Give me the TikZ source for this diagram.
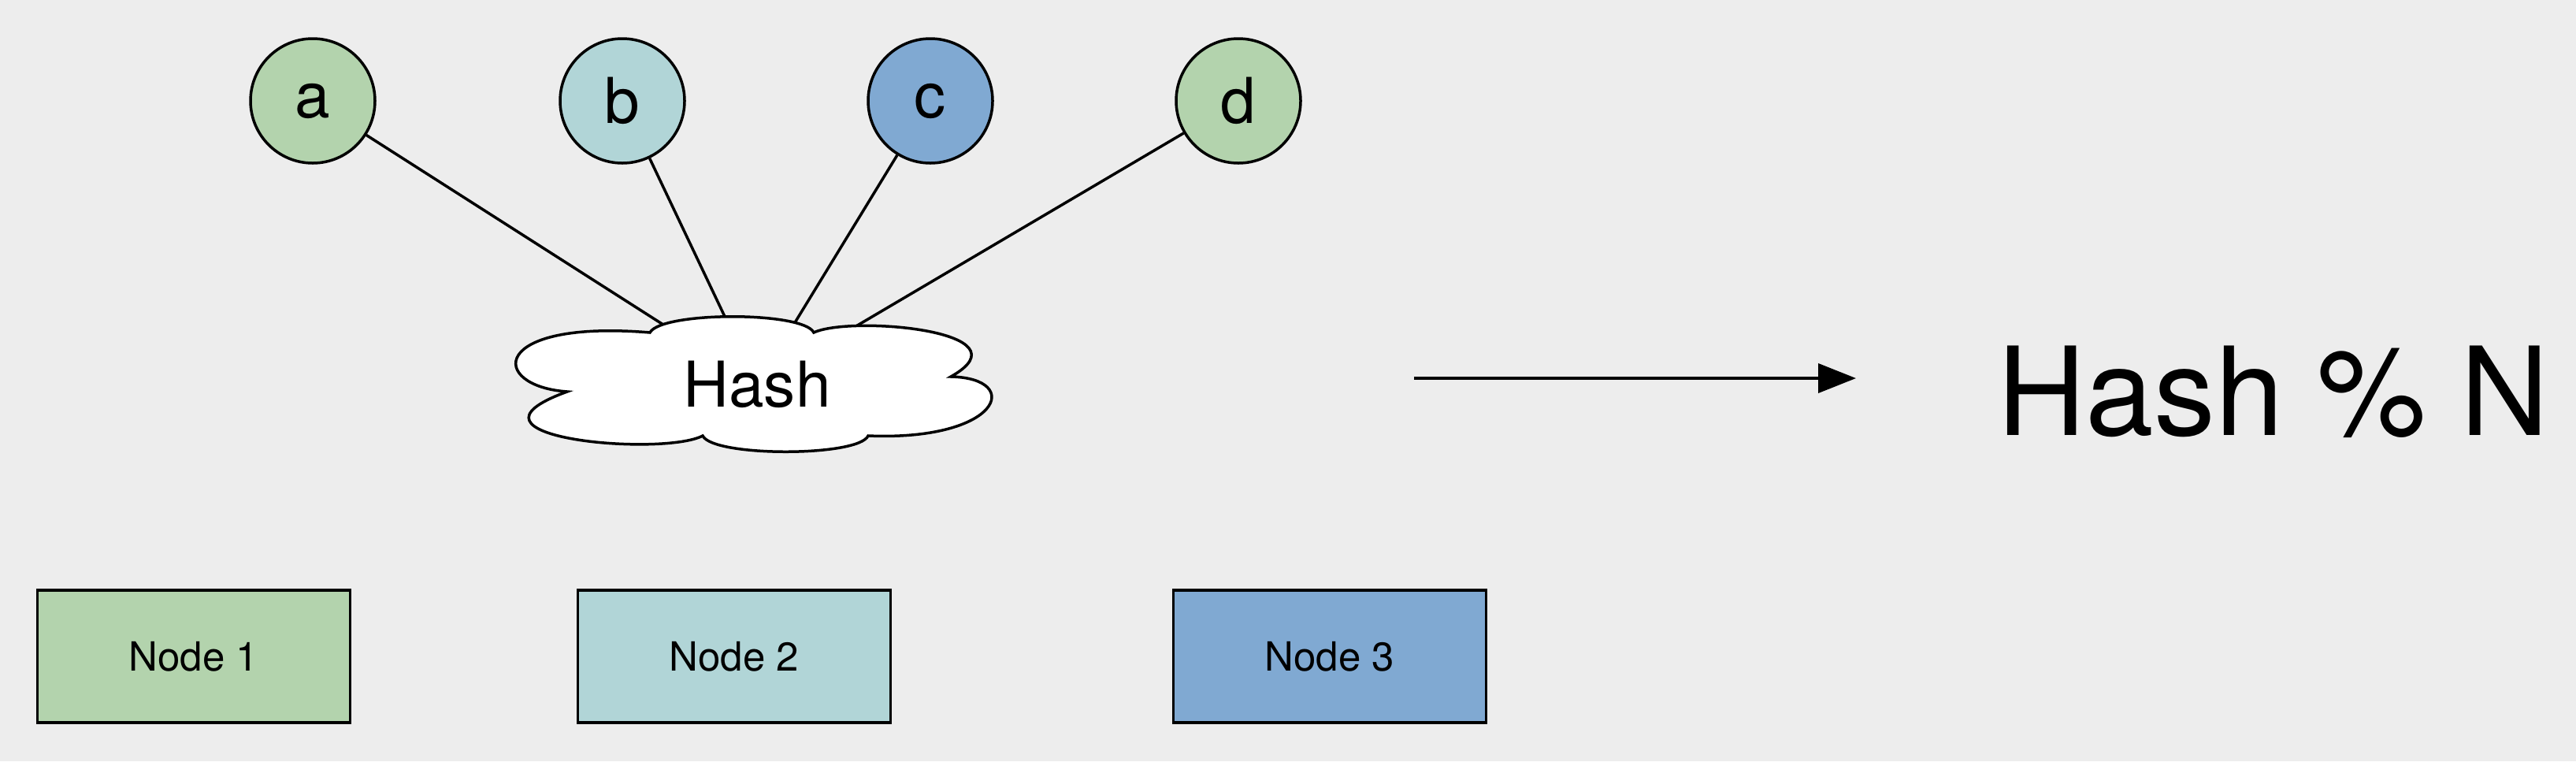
\documentclass[tikz,border=0pt]{standalone}
\usepackage{fontspec}
\setmainfont{TeX Gyre Heros}
\usetikzlibrary{shapes.geometric,arrows.meta}

\newlength{\du}
\setlength{\du}{0.01cm}
\definecolor{diabgcolor}{RGB}{237,237,237}
\definecolor{diagreen}{RGB}{179,211,173}
\definecolor{diateal}{RGB}{177,213,215}
\definecolor{diablue}{RGB}{128,169,210}
\pgfdeclarelayer{background}
\pgfsetlayers{background,main}

\begin{document}
\begin{tikzpicture}[
  keycircle/.style={circle,draw=black,line width=3.5\du,minimum size=158\du,inner sep=0pt,
    font=\fontsize{22.8}{27}\selectfont},
  serverbox/.style={rectangle,draw=black,line width=3.5\du,minimum width=397\du,minimum height=168\du,
    inner sep=0pt,font=\fontsize{14.5}{17}\selectfont},
  hashnode/.style={ellipse,minimum width=560\du,minimum height=140\du,inner sep=0pt,outer sep=0pt,
    font=\fontsize{22.8}{27}\selectfont},
  keyline/.style={line width=3.5\du}]
\useasboundingbox (0\du,0\du) rectangle (3270\du,-966\du);
% keys
\node[keycircle,fill=diagreen] (a) at (397\du,-128\du){a};
\node[keycircle,fill=diateal] (b) at (790\du,-128\du){b};
\node[keycircle,fill=diablue] (c) at (1181\du,-128\du){c};
\node[keycircle,fill=diagreen] (d) at (1572\du,-128\du){d};
% hash function (cloud)
\draw[line width=3.5\du,fill=white]
  (720\du,-497\du) .. controls (620\du,-490\du) and (620\du,-405\du) .. (825\du,-422\du)
  .. controls (840\du,-395\du) and (1020\du,-395\du) .. (1033\du,-422\du)
  .. controls (1080\du,-400\du) and (1310\du,-420\du) .. (1207\du,-478\du)
  .. controls (1300\du,-480\du) and (1270\du,-560\du) .. (1102\du,-553\du)
  .. controls (1090\du,-580\du) and (905\du,-580\du) .. (892\du,-553\du)
  .. controls (840\du,-580\du) and (560\du,-555\du) .. (720\du,-497\du) -- cycle;
\node[hashnode] (hash) at (961\du,-488\du){Hash};
\begin{pgfonlayer}{background}
\fill[diabgcolor] (0\du,0\du) rectangle (3270\du,-966\du);
\draw[keyline] (a)--(hash);
\draw[keyline] (b)--(hash);
\draw[keyline] (c)--(hash);
\draw[keyline] (d)--(hash);
\end{pgfonlayer}
% result
\coordinate (arrowstart) at (1795\du,-480\du);
\coordinate (arrowend) at (2356\du,-480\du);
\node[anchor=base west,inner sep=0pt,outer sep=0pt,font=\fontsize{44.3}{52}\selectfont] (modulo) at (2535\du,-552\du){Hash \% N};
\draw[line width=4\du,-{Triangle[length=0.48cm,width=0.37cm]}] (arrowstart)--(arrowend);
% servers
\node[serverbox,fill=diagreen] (node1) at (246\du,-833\du){Node 1};
\node[serverbox,fill=diateal] (node2) at (932\du,-833\du){Node 2};
\node[serverbox,fill=diablue] (node3) at (1688\du,-833\du){Node 3};
\end{tikzpicture}
\end{document}
